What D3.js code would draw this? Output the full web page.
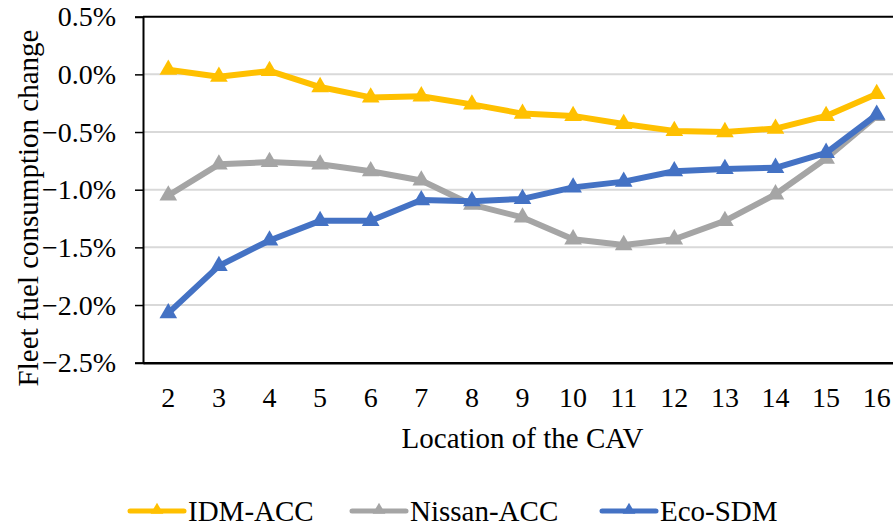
<!DOCTYPE html>
<html>
<head>
<meta charset="utf-8">
<script src="https://cdn.jsdelivr.net/npm/d3@7"></script>
<style>
  html, body { margin: 0; padding: 0; background: #fff; }
  svg { display: block; }
  svg text { font-family: "Liberation Serif", "Times New Roman", Times, "DejaVu Serif", serif !important; fill: #000; }
</style>
</head>
<body>
<svg id="chart" width="893" height="529"></svg>
<script>
// CAV position along the platoon
const locations = ["2", "3", "4", "5", "6", "7", "8", "9", "10", "11", "12", "13", "14", "15", "16"];

// Fleet fuel consumption change (%) for each controller
const idmAcc    = [0.04, -0.02, 0.03, -0.11, -0.20, -0.19, -0.26, -0.34, -0.36, -0.43, -0.49, -0.50, -0.47, -0.36, -0.17];
const nissanAcc = [-1.05, -0.78, -0.76, -0.78, -0.84, -0.92, -1.13, -1.24, -1.43, -1.48, -1.43, -1.27, -1.04, -0.73, -0.36];
const ecoSdm    = [-2.07, -1.66, -1.44, -1.27, -1.27, -1.09, -1.10, -1.08, -0.98, -0.93, -0.84, -0.82, -0.81, -0.68, -0.35];

const yTicks = [0.5, 0.0, -0.5, -1.0, -1.5, -2.0, -2.5];

const seriesNames  = ["IDM-ACC", "Nissan-ACC", "Eco-SDM"];
const seriesColors = ["#FFC000", "#A5A5A5", "#4472C4"];
const seriesData   = [idmAcc, nissanAcc, ecoSdm];

const svg = d3.select("#chart");
const plotLeft = 143, plotRight = 902, plotTop = 16.7, plotBottom = 362.7;

const x = d3.scaleBand().domain(locations).range([plotLeft, plotRight]).padding(0);
const y = d3.scaleLinear().domain([-2.5, 0.5]).range([plotBottom, plotTop]);
const cx = d => x(d) + x.bandwidth() / 2;

// horizontal gridlines
svg.append("g")
  .selectAll("line")
  .data(yTicks.filter(t => t > -2.5 && t < 0.5))
  .join("line")
  .attr("x1", plotLeft).attr("x2", plotRight)
  .attr("y1", d => y(d)).attr("y2", d => y(d))
  .attr("stroke", "#d9d9d9").attr("stroke-width", 2);

// top border of the plot area
svg.append("line")
  .attr("x1", plotLeft).attr("x2", plotRight)
  .attr("y1", y(0.5)).attr("y2", y(0.5))
  .attr("stroke", "#000").attr("stroke-width", 2);

// y axis
const yAxis = svg.append("g")
  .attr("transform", `translate(${plotLeft},0)`)
  .call(d3.axisLeft(y).tickValues(yTicks).tickSize(8).tickPadding(19)
    .tickFormat(d => d3.format(".1f")(d) + "%"));
yAxis.attr("font-family", null);
yAxis.select(".domain").attr("stroke", "#000").attr("stroke-width", 2);
yAxis.selectAll(".tick line").attr("stroke", "#000").attr("stroke-width", 1.5);
yAxis.selectAll(".tick text")
  .attr("font-size", 28)
  .attr("dy", "0.33em");

// x axis
const xAxis = svg.append("g")
  .attr("transform", `translate(0,${plotBottom})`)
  .call(d3.axisBottom(x).tickSize(0).tickPadding(24));
xAxis.attr("font-family", null);
xAxis.select(".domain").attr("stroke", "#000").attr("stroke-width", 2.5);
xAxis.selectAll(".tick text").attr("font-size", 28);

// axis titles
svg.append("text")
  .attr("x", (plotLeft + plotRight) / 2).attr("y", 448)
  .attr("text-anchor", "middle").attr("font-size", 29)
  .text("Location of the CAV");

svg.append("text")
  .attr("transform", "translate(38,208) rotate(-90)")
  .attr("text-anchor", "middle").attr("font-size", 29)
  .text("Fleet fuel consumption change");

// series lines and triangle markers
const line = d3.line().x((d, i) => cx(locations[i])).y(d => y(d));
const tri = d3.symbol(d3.symbolTriangle, 135);

seriesData.forEach((vals, k) => {
  const g = svg.append("g");
  g.append("path")
    .datum(vals)
    .attr("d", line)
    .attr("fill", "none")
    .attr("stroke", seriesColors[k])
    .attr("stroke-width", 6)
    .attr("stroke-linejoin", "round");
  g.selectAll("path.marker")
    .data(vals)
    .join("path")
    .attr("class", "marker")
    .attr("d", tri)
    .attr("transform", (d, i) => `translate(${cx(locations[i])},${y(d)})`)
    .attr("fill", seriesColors[k]);
});

// legend
const legendItems = [
  { name: seriesNames[0], color: seriesColors[0], x0: 130 },
  { name: seriesNames[1], color: seriesColors[1], x0: 352 },
  { name: seriesNames[2], color: seriesColors[2], x0: 602 }
];
const legendY = 511;
const legTri = d3.symbol(d3.symbolTriangle, 70);
legendItems.forEach(it => {
  const g = svg.append("g");
  g.append("line")
    .attr("x1", it.x0).attr("x2", it.x0 + 54)
    .attr("y1", legendY).attr("y2", legendY)
    .attr("stroke", it.color).attr("stroke-width", 5).attr("stroke-linecap", "round");
  g.append("path")
    .attr("d", legTri)
    .attr("transform", `translate(${it.x0 + 27},${legendY - 1})`)
    .attr("fill", it.color);
  g.append("text")
    .attr("x", it.x0 + 58).attr("y", legendY + 10)
    .attr("font-size", 29)
    .text(it.name);
});
</script>
</body>
</html>
